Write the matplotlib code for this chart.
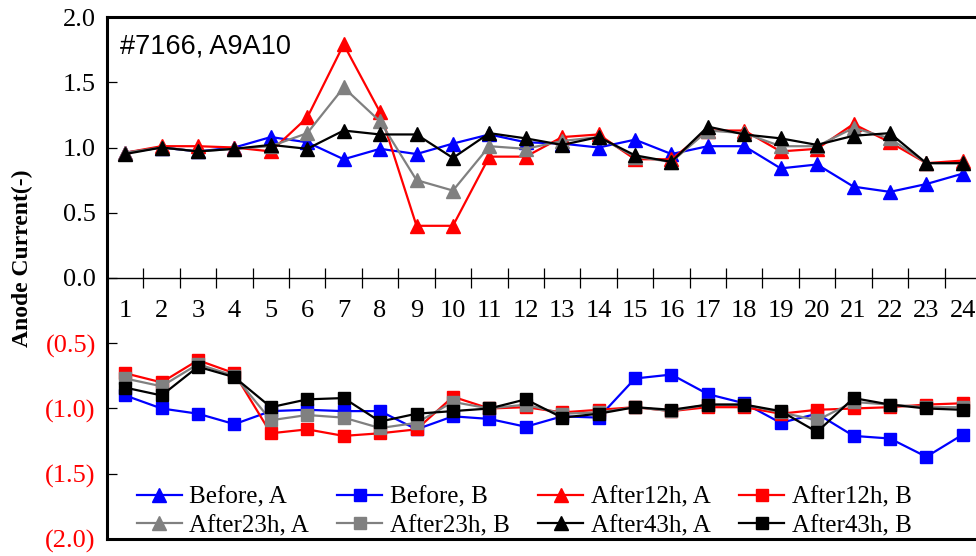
import numpy as np
import matplotlib
matplotlib.use("Agg")
from matplotlib import pyplot as plt

# channel numbers
ch = np.arange(1, 25)

# A side (plotted upward)
before_a = [0.96, 1.00, 0.97, 1.00, 1.08, 1.04, 0.91, 0.99, 0.95, 1.03, 1.10, 1.04,
            1.03, 1.00, 1.06, 0.95, 1.01, 1.01, 0.84, 0.87, 0.70, 0.66, 0.72, 0.80]
after12_a = [0.96, 1.01, 1.01, 1.00, 0.97, 1.23, 1.79, 1.27, 0.40, 0.40, 0.93, 0.93,
             1.08, 1.10, 0.91, 0.91, 1.13, 1.13, 0.97, 0.99, 1.18, 1.04, 0.88, 0.90]
after23_a = [0.96, 1.00, 0.97, 0.99, 1.01, 1.11, 1.46, 1.20, 0.75, 0.67, 1.01, 0.99,
             1.05, 1.08, 0.93, 0.89, 1.13, 1.11, 1.01, 1.01, 1.15, 1.07, 0.88, 0.88]
after43_a = [0.95, 1.00, 0.97, 0.99, 1.02, 0.99, 1.13, 1.10, 1.10, 0.92, 1.11, 1.07,
             1.02, 1.08, 0.94, 0.89, 1.16, 1.10, 1.07, 1.02, 1.09, 1.11, 0.88, 0.88]

# B side (magnitudes, plotted downward)
before_b = [0.90, 1.00, 1.04, 1.12, 1.02, 1.01, 1.02, 1.02, 1.16, 1.06, 1.08, 1.14,
            1.06, 1.07, 0.77, 0.74, 0.89, 0.96, 1.11, 1.04, 1.21, 1.23, 1.37, 1.20]
after12_b = [0.73, 0.80, 0.63, 0.73, 1.19, 1.16, 1.21, 1.19, 1.16, 0.91, 1.00, 0.99,
             1.03, 1.01, 0.99, 1.02, 0.99, 0.99, 1.04, 1.01, 1.00, 0.99, 0.97, 0.96]
after23_b = [0.77, 0.83, 0.66, 0.75, 1.09, 1.05, 1.07, 1.15, 1.11, 0.95, 1.00, 0.97,
             1.04, 1.03, 0.99, 1.02, 0.97, 0.97, 1.03, 1.09, 0.95, 0.97, 0.99, 0.99]
after43_b = [0.84, 0.90, 0.68, 0.76, 0.99, 0.93, 0.92, 1.10, 1.04, 1.02, 1.00, 0.93,
             1.07, 1.04, 0.99, 1.01, 0.97, 0.97, 1.02, 1.18, 0.92, 0.97, 1.00, 1.01]

names = ["Before", "After12h", "After23h", "After43h"]
colors = ["#0000FF", "#FF0000", "#808080", "#000000"]
a_sets = [before_a, after12_a, after23_a, after43_a]
b_sets = [before_b, after12_b, after23_b, after43_b]

ytick_vals = [2.0, 1.5, 1.0, 0.5, 0.0, -0.5, -1.0, -1.5, -2.0]
ytick_labels = ["2.0", "1.5", "1.0", "0.5", "0.0", "(0.5)", "(1.0)", "(1.5)", "(2.0)"]

plt.rcParams['font.family'] = ['Liberation Serif', 'DejaVu Serif']

fig = plt.figure(figsize=(9.76, 5.56), dpi=100)
ax = fig.add_axes([0.1096, 0.0306, 0.8955, 0.9388])

ha, hb = [], []
for nm, c, a, b in zip(names, colors, a_sets, b_sets):
    la, = ax.plot(ch, a, color=c, lw=1.6, marker='^', ms=10, label=nm + ", A")
    lb, = ax.plot(ch, -np.array(b), color=c, lw=1.6, marker='s', ms=8, label=nm + ", B")
    ha.append(la)
    hb.append(lb)

ax.set_xlim(0.5, 24.5)
ax.set_ylim(-2, 2)

# frame
ax.spines['right'].set_visible(False)
ax.spines['left'].set_linewidth(2.2)
ax.spines['top'].set_linewidth(2.2)
ax.spines['bottom'].set_position(('data', 0))
ax.spines['bottom'].set_linewidth(1.0)
ax.axhline(-2, color='black', lw=2.2, clip_on=False, zorder=5)

ax.set_xticks(ch)
ax.set_xticklabels([str(i) for i in ch])
ax.set_xticks(np.arange(1.5, 24, 1), minor=True)
ax.tick_params(axis='x', which='major', length=0, pad=16, labelsize=19)
ax.tick_params(axis='x', which='minor', direction='inout', length=15, width=0.9)

ax.set_yticks(ytick_vals)
ax.set_yticklabels(ytick_labels)
ax.tick_params(axis='y', direction='in', length=7, width=0.9, pad=8, labelsize=19)
for v, t in zip(ytick_vals, ax.get_yticklabels()):
    t.set_color('red' if v < 0 else 'black')

ax.set_ylabel("Anode Current(-)", fontsize=17, fontweight='bold')
ax.yaxis.set_label_coords(-0.085, 0.538)

ax.text(0.015, 0.944, "#7166, A9A10", transform=ax.transAxes, fontsize=19.5,
        family='Liberation Sans', va='center', ha='left')

# legend order: row-major in picture, column-major for matplotlib
order = [ha[0], ha[2], hb[0], hb[2], ha[1], ha[3], hb[1], hb[3]]
ax.legend(handles=order, ncol=4, frameon=False, fontsize=18,
          loc='lower left', bbox_to_anchor=(0.014, -0.03),
          handlelength=1.8, handletextpad=0.3, columnspacing=1.14,
          labelspacing=0.25, borderpad=0.2)

fig.savefig("out.png", dpi=100)
